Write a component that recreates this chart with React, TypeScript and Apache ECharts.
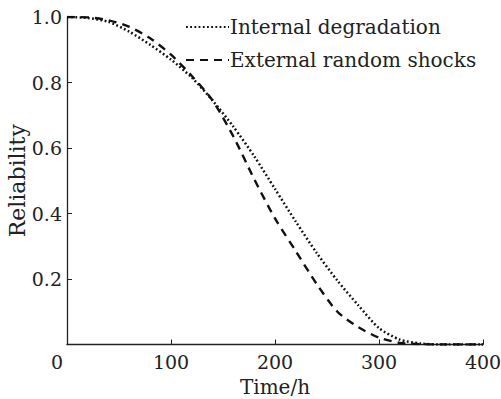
import React, { useEffect, useRef } from "react";
import * as echarts from "echarts";

const times = [0, 20, 40, 60, 80, 100, 120, 140, 160, 180, 200, 220, 240, 260, 280, 300, 320, 340, 360, 380, 400];
const internalDegradation = [1.0, 0.997, 0.985, 0.955, 0.915, 0.87, 0.815, 0.745, 0.665, 0.575, 0.475, 0.375, 0.28, 0.195, 0.12, 0.05, 0.015, 0.003, 0, 0, 0];
const externalShocks = [1.0, 0.999, 0.99, 0.97, 0.935, 0.885, 0.82, 0.745, 0.635, 0.505, 0.385, 0.285, 0.185, 0.1, 0.053, 0.021, 0.005, 0.001, 0, 0, 0];
const xTicks = [0, 100, 200, 300, 400];
const yTicks = [0.2, 0.4, 0.6, 0.8, 1.0];
const seriesNames = ["Internal degradation", "External random shocks"];

const FONT = "DejaVu Serif";
const TICK_FS = 19;

export default function App() {
  const ref = useRef<HTMLDivElement>(null);
  useEffect(() => {
    if (!ref.current) return;
    const chart = echarts.init(ref.current, null, { renderer: "svg" });
    const pair = (ys: number[]) => times.map((t, i) => [t, ys[i]]);
    chart.setOption({
      animation: false,
      backgroundColor: "#fff",
      textStyle: { fontFamily: FONT },
      grid: { left: 67, right: 18, top: 17, bottom: 54.5, containLabel: false, outerBoundsMode: "none" },
      legend: {
        orient: "vertical",
        left: 180,
        top: 12,
        itemWidth: 43,
        itemHeight: 12,
        itemGap: 13,
        data: seriesNames,
        itemStyle: { opacity: 0 },
        textStyle: { fontFamily: FONT, fontSize: 20, color: "#222", padding: [0, 0, 0, -4] },
      },
      xAxis: {
        type: "value",
        min: 0,
        max: 400,
        interval: 100,
        name: "Time/h",
        nameLocation: "middle",
        nameGap: 32,
        nameMoveOverlap: false,
        nameTextStyle: { fontFamily: FONT, fontSize: 20, color: "#222" },
        axisLine: { show: true, lineStyle: { color: "#222", width: 1.3 } },
        axisTick: { show: true, inside: true, length: 5, lineStyle: { color: "#222", width: 1 } },
        splitLine: { show: false },
        axisLabel: {
          margin: 8,
          fontFamily: FONT,
          fontSize: TICK_FS,
          color: "#222",
          formatter: (v: number) => (v === 0 ? "{z|0}" : xTicks.includes(v) ? String(v) : ""),
          rich: { z: { fontFamily: FONT, fontSize: TICK_FS, color: "#222", padding: [0, 20, 0, 0] } },
        },
      },
      yAxis: {
        type: "value",
        min: 0,
        max: 1,
        interval: 0.2,
        name: "Reliability",
        nameLocation: "middle",
        nameGap: 39,
        nameMoveOverlap: false,
        nameRotate: 90,
        nameTextStyle: { fontFamily: FONT, fontSize: 22, color: "#222" },
        axisLine: { show: true, lineStyle: { color: "#222", width: 1.3 } },
        axisTick: { show: true, inside: true, length: 5, lineStyle: { color: "#222", width: 1 } },
        splitLine: { show: false },
        axisLabel: {
          margin: 5,
          fontFamily: FONT,
          fontSize: TICK_FS,
          color: "#222",
          formatter: (v: number) => {
            const hit = yTicks.find((y) => Math.abs(y - v) < 1e-6);
            return hit === undefined ? "" : hit.toFixed(1);
          },
        },
      },
      series: [
        {
          name: seriesNames[0],
          type: "line",
          data: pair(internalDegradation),
          showSymbol: false,
          symbol: "none",
          smooth: 0.25,
          itemStyle: { color: "#111" },
          lineStyle: { color: "#111", width: 2.5, type: [1.8, 2.4] },
          z: 3,
        },
        {
          name: seriesNames[1],
          type: "line",
          data: pair(externalShocks),
          showSymbol: false,
          symbol: "none",
          smooth: 0.25,
          itemStyle: { color: "#111" },
          lineStyle: { color: "#111", width: 2.4, type: [8, 6] },
          z: 3,
        },
      ],
    });
    return () => chart.dispose();
  }, []);
  return <div ref={ref} style={{ width: 501, height: 399, position: "absolute", left: 0, top: 0 }} />;
}
